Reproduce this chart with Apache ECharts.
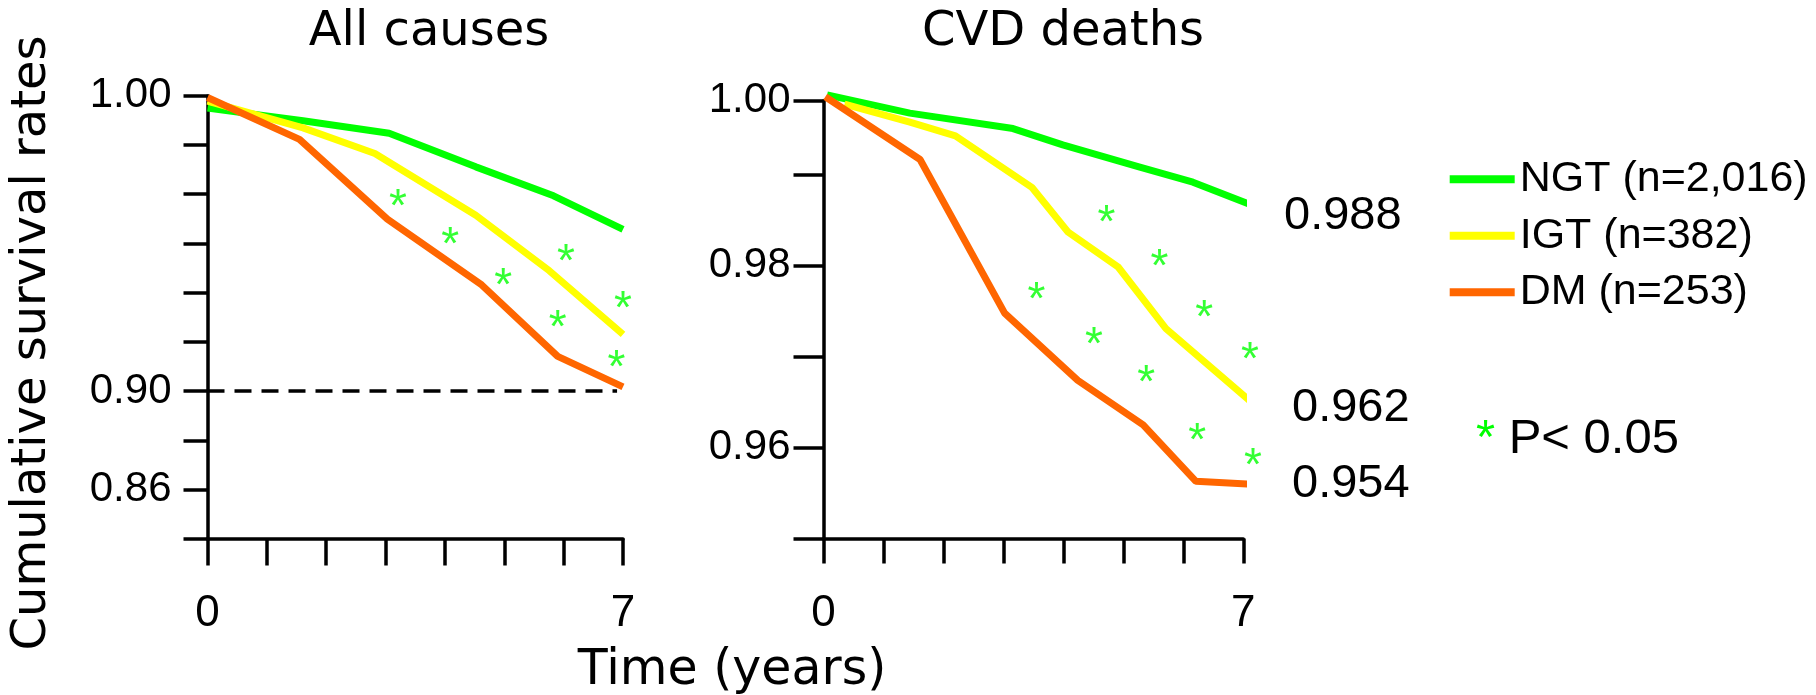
<!DOCTYPE html>
<html lang="en">
<head>
<meta charset="UTF-8">
<title>Cumulative survival rates</title>
<script src="https://cdn.jsdelivr.net/npm/echarts@6/dist/echarts.min.js"></script>
<style>
    html, body { margin: 0; padding: 0; background: #fff; }
    #chart { width: 1816px; height: 695px; }
</style>
</head>
<body>
<div id="chart"></div>
<script>
// group names (legend)
var groupNames = ['NGT (n=2,016)', 'IGT (n=382)', 'DM (n=253)'];
var groupColors = ['#00ff00', '#ffff00', '#ff6600'];

// All causes: [years, survival]
var allNGT = [[0, 0.9958], [1.61, 0.9915], [3.06, 0.9873], [4.52, 0.9759], [5.83, 0.9661], [7, 0.9547]];
var allIGT = [[0, 0.9982], [1.61, 0.9891], [2.82, 0.9804], [4.52, 0.9595], [5.76, 0.9407], [7, 0.9192]];
var allDM  = [[0, 0.9994], [1.55, 0.9852], [3.03, 0.9582], [4.62, 0.9359], [5.9, 0.9117], [7, 0.9014]];
var allStars = [[3.21, 0.9649], [4.09, 0.9522], [4.98, 0.9381], [6.04, 0.9462], [5.90, 0.9240], [7.0, 0.9305], [6.89, 0.9105]];
var allRefLine = [[0, 0.90], [6.9, 0.90]];

// CVD deaths: [years, survival]
var cvdNGT = [[0.06, 0.9988], [1.44, 0.9968], [3.16, 0.9951], [3.99, 0.9933], [5.26, 0.9909], [6.16, 0.9892], [7.1, 0.9868]];
var cvdIGT = [[0.35, 0.9978], [1.44, 0.9958], [2.2, 0.9943], [3.48, 0.9886], [4.08, 0.9837], [4.91, 0.9799], [5.71, 0.9731], [7.1, 0.9652]];
var cvdDM  = [[0.03, 0.9986], [1.61, 0.9917], [3.02, 0.9748], [4.24, 0.9674], [5.33, 0.9625], [6.21, 0.9563], [7.08, 0.9560]];
var cvdStars = [[4.72, 0.9856], [5.60, 0.9807], [6.35, 0.9751], [7.11, 0.9705], [3.55, 0.9771], [4.51, 0.9721], [5.38, 0.9680], [6.23, 0.9616], [7.16, 0.9588]];
var cvdEndValues = ['0.988', '0.962', '0.954'];

// axis ticks / labels
var xLabelValues = [0, 7];
var allTickValues = [0.85, 0.8667, 0.8833, 0.90, 0.9167, 0.9333, 0.95, 0.9667, 0.9833, 1.00];
var allLabelValues = [0.8667, 0.90, 1.00];
var allLabelTexts = ['0.86', '0.90', '1.00'];
var cvdTickValues = [0.95, 0.96, 0.97, 0.98, 0.99, 0.9982];
var cvdLabelValues = [0.96, 0.98, 0.9982];

var ARIAL = "'Liberation Sans', Arial, sans-serif";
var VERDANA = "'DejaVu Sans', Verdana, sans-serif";
var black = '#000';

var chart = echarts.init(document.getElementById('chart'));

function curve(name, data, color, idx) {
    return {
        type: 'line', name: name, data: data,
        xAxisIndex: idx, yAxisIndex: idx,
        symbol: 'none', clip: false, silent: true,
        lineStyle: { color: color, width: 7, cap: 'butt' },
        itemStyle: { color: color }
    };
}

function stars(data, idx) {
    return {
        type: 'scatter', data: data,
        xAxisIndex: idx, yAxisIndex: idx,
        symbolSize: 1, silent: true, clip: false, z: 5,
        itemStyle: { color: 'rgba(0,0,0,0)' },
        label: {
            show: true, formatter: '*', position: 'inside',
            color: '#00ff00', fontSize: 46, fontFamily: ARIAL,
            offset: [0, 9]
        }
    };
}

function xAxis(idx, tickLen) {
    return {
        gridIndex: idx, type: 'value', min: 0, max: 7, interval: 1,
        axisLine: { onZero: false, lineStyle: { color: black, width: 3.5 } },
        axisTick: { length: tickLen, lineStyle: { color: black, width: 3.5 } },
        axisLabel: { customValues: xLabelValues, margin: 53, fontSize: 44, fontFamily: ARIAL, color: black },
        splitLine: { show: false }
    };
}

var option = {
    animation: false,
    backgroundColor: '#fff',
    grid: [
        { left: 207.5, top: 95.7, width: 415.5, height: 442.9 },
        { left: 823.5, top: 100.4, width: 419.8, height: 438.2 }
    ],
    xAxis: [xAxis(0, 27), xAxis(1, 25)],
    yAxis: [
        {
            gridIndex: 0, type: 'value', min: 0.85, max: 1.0,
            axisLine: { show: true, onZero: false, lineStyle: { color: black, width: 3.5 } },
            axisTick: { show: true, length: 24, customValues: allTickValues, lineStyle: { color: black, width: 3.5 } },
            axisLabel: {
                customValues: allLabelValues, margin: 36, fontSize: 42, fontFamily: ARIAL, color: black,
                padding: [8, 0, 0, 0],
                formatter: function (v) {
                    for (var i = 0; i < allLabelValues.length; i++) {
                        if (Math.abs(allLabelValues[i] - v) < 0.001) return allLabelTexts[i];
                    }
                    return '';
                }
            },
            splitLine: { show: false }
        },
        {
            gridIndex: 1, type: 'value', min: 0.95, max: 0.9982,
            axisLine: { show: true, onZero: false, lineStyle: { color: black, width: 3.5 } },
            axisTick: { show: true, length: 30, customValues: cvdTickValues, lineStyle: { color: black, width: 3.5 } },
            axisLabel: {
                customValues: cvdLabelValues, margin: 33, fontSize: 42, fontFamily: ARIAL, color: black,
                padding: [8, 0, 0, 0],
                formatter: function (v) { return v.toFixed(2); }
            },
            splitLine: { show: false }
        }
    ],
    legend: {
        data: groupNames, orient: 'vertical', left: 1449.7, top: 157.8, padding: 0,
        icon: 'rect', itemWidth: 65, itemHeight: 8, itemGap: 13.5, selectedMode: false,
        textStyle: { fontSize: 43, lineHeight: 43, fontFamily: ARIAL, color: black }
    },
    series: [
        {
            type: 'line', data: allRefLine, xAxisIndex: 0, yAxisIndex: 0,
            symbol: 'none', silent: true,
            lineStyle: { color: black, width: 3.5, type: [17, 10] }
        },
        curve(groupNames[0], allNGT, groupColors[0], 0),
        curve(groupNames[1], allIGT, groupColors[1], 0),
        curve(groupNames[2], allDM, groupColors[2], 0),
        curve(groupNames[0], cvdNGT, groupColors[0], 1),
        curve(groupNames[1], cvdIGT, groupColors[1], 1),
        curve(groupNames[2], cvdDM, groupColors[2], 1),
        stars(allStars, 0),
        stars(cvdStars, 1)
    ],
    graphic: [
        { type: 'text', x: 429, y: 33, style: { text: 'All causes', font: '48px ' + VERDANA, fill: black, align: 'center', verticalAlign: 'middle' } },
        { type: 'text', x: 1063, y: 33, style: { text: 'CVD deaths', font: '48px ' + VERDANA, fill: black, align: 'center', verticalAlign: 'middle' } },
        { type: 'text', x: 732, y: 671, style: { text: 'Time (years)', font: '49px ' + VERDANA, fill: black, align: 'center', verticalAlign: 'middle' } },
        { type: 'text', x: 33, y: 343, rotation: Math.PI / 2, style: { text: 'Cumulative survival rates', font: '48px ' + VERDANA, fill: black, align: 'center', verticalAlign: 'middle' } },
        { type: 'text', x: 1284, y: 216.5, style: { text: cvdEndValues[0], font: '47px ' + ARIAL, fill: black, align: 'left', verticalAlign: 'middle' } },
        { type: 'text', x: 1292, y: 408, style: { text: cvdEndValues[1], font: '47px ' + ARIAL, fill: black, align: 'left', verticalAlign: 'middle' } },
        { type: 'text', x: 1292, y: 484, style: { text: cvdEndValues[2], font: '47px ' + ARIAL, fill: black, align: 'left', verticalAlign: 'middle' } },
        {
            type: 'text', x: 1476, y: 439,
            style: {
                text: '{g|*} P< 0.05', font: '49px ' + ARIAL, fill: black, align: 'left', verticalAlign: 'middle',
                rich: { g: { fill: '#00ff00', font: '49px ' + ARIAL } }
            }
        }
    ]
};

chart.setOption(option);
</script>
</body>
</html>
